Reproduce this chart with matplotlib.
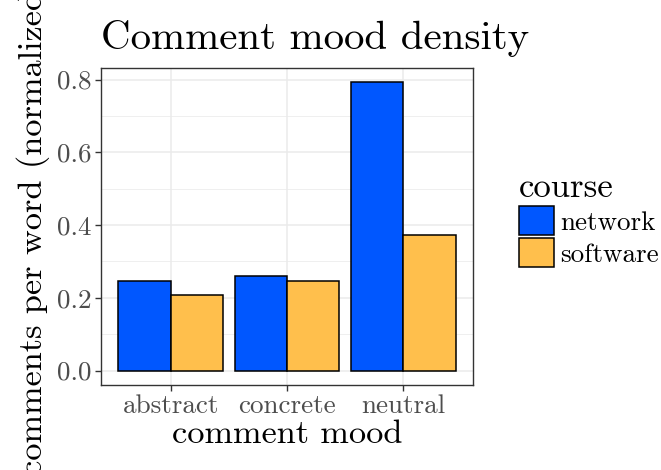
import matplotlib

matplotlib.use("Agg")
import matplotlib.pyplot as plt  # noqa: E402
import numpy as np  # noqa: E402
from matplotlib.patches import Patch  # noqa: E402

moods = ["abstract", "concrete", "neutral"]
courses = ["network", "software"]
network = [0.247, 0.259, 0.792]
software = [0.209, 0.247, 0.373]
colors = ["#0057FF", "#FFBF4C"]

plt.rcParams["font.family"] = ["cmr10", "DejaVu Sans"]
plt.rcParams["axes.formatter.use_mathtext"] = True

fig = plt.figure(figsize=(6.61, 4.70), dpi=100)
ax = fig.add_axes([0.1528, 0.1809, 0.5628, 0.6744])

x = np.arange(1, len(moods) + 1)
w = 0.45
for i, (vals, col) in enumerate([(network, colors[0]), (software, colors[1])]):
    ax.bar(x + (i - 0.5) * w, vals, width=w, color=col, edgecolor="black",
           linewidth=1.1, zorder=3)

ax.set_xlim(0.4, 3.6)
ax.set_ylim(-0.0396, 0.8316)
ax.set_xticks(x)
ax.set_xticklabels(moods)
ax.set_yticks([0.0, 0.2, 0.4, 0.6, 0.8])
ax.set_yticklabels(["0.0", "0.2", "0.4", "0.6", "0.8"])
ax.set_yticks([0.1, 0.3, 0.5, 0.7], minor=True)

ax.grid(which="major", color="#EBEBEB", linewidth=1.1, zorder=0)
ax.grid(which="minor", axis="y", color="#EBEBEB", linewidth=0.55, zorder=0)
ax.set_axisbelow(True)
for s in ax.spines.values():
    s.set_color("#333333")
    s.set_linewidth(1.0)
ax.tick_params(which="major", length=4, width=1.0, color="#333333",
               labelcolor="#4D4D4D", labelsize=19.5, pad=3)
ax.tick_params(which="minor", length=0)

ax.set_xlabel("comment mood", fontsize=24.7, labelpad=1)
ax.set_ylabel("comments per word (normalized)", fontsize=24.7, labelpad=5)
ax.set_title("Comment mood density", fontsize=29.5, loc="left", pad=14)

handles = [Patch(facecolor=c, edgecolor="black", linewidth=1.1) for c in colors]
leg = fig.legend(handles, courses, loc="upper left", bbox_to_anchor=(0.7855, 0.634),
                 frameon=False, fontsize=19.5, title="course", title_fontsize=25,
                 handlelength=1.27, handleheight=1.27, handletextpad=0.25,
                 labelspacing=0.1, borderaxespad=0, borderpad=0)
leg._legend_box.align = "left"

fig.savefig("out.png", dpi=100)
